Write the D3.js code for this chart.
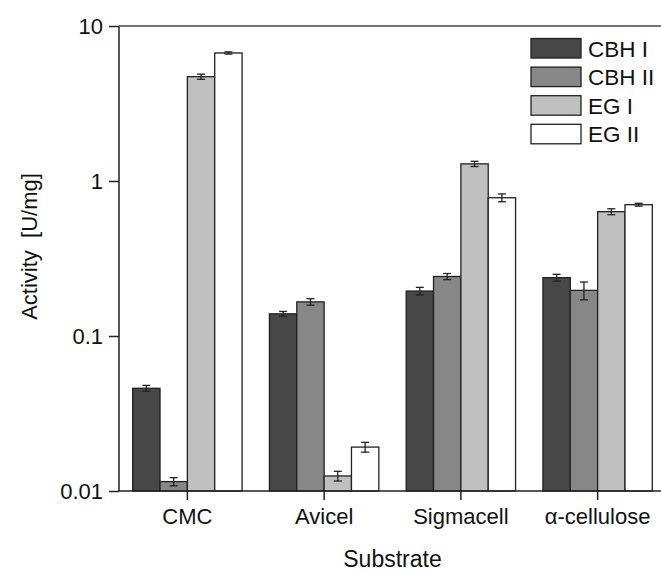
<!DOCTYPE html>
<html>
<head>
<meta charset="utf-8">
<script src="https://cdn.jsdelivr.net/npm/d3@7"></script>
<style>
  body { margin: 0; background: #fff; }
  text { font-family: "Liberation Sans", Arial, sans-serif; fill: #111; }
</style>
</head>
<body>
<svg id="chart" width="661" height="573"></svg>
<script>
const substrates = ['CMC', 'Avicel', 'Sigmacell', 'α-cellulose'];
const enzymes = ['CBH I', 'CBH II', 'EG I', 'EG II'];
const colors = ['#474747', '#878787', '#c0c0c0', '#ffffff'];

// activity per substrate, one array per enzyme
const cbh1 = [0.046, 0.139, 0.195, 0.238];
const cbh2 = [0.0115, 0.166, 0.242, 0.197];
const eg1 = [4.71, 0.0125, 1.29, 0.634];
const eg2 = [6.70, 0.0192, 0.78, 0.703];
const values = [cbh1, cbh2, eg1, eg2];

// error bar half widths
const cbh1Err = [0.002, 0.005, 0.011, 0.012];
const cbh2Err = [0.0007, 0.008, 0.011, 0.026];
const eg1Err = [0.18, 0.0009, 0.05, 0.028];
const eg2Err = [0.11, 0.0014, 0.045, 0.015];
const errors = [cbh1Err, cbh2Err, eg1Err, eg2Err];

const yTicks = [0.01, 0.1, 1, 10];
const yTickLabels = ['0.01', '0.1', '1', '10'];

const plotLeft = 119, plotTop = 26, plotBottom = 491, plotRight = 666;

const svg = d3.select('#chart');

const x0 = d3.scaleBand()
    .domain(substrates)
    .range([plotLeft, plotRight])
    .paddingInner(0.2)
    .paddingOuter(0.1);

const x1 = d3.scaleBand()
    .domain(enzymes)
    .range([0, x0.bandwidth()]);

const y = d3.scaleLog()
    .domain([0.01, 10])
    .range([plotBottom, plotTop]);

const rows = [];
substrates.forEach((s, i) => {
    enzymes.forEach((e, j) => {
        rows.push({ substrate: s, enzyme: e, value: values[j][i], err: errors[j][i], color: colors[j] });
    });
});

// bars
svg.append('g')
    .selectAll('rect')
    .data(rows)
    .enter()
    .append('rect')
    .attr('x', (d) => x0(d.substrate) + x1(d.enzyme))
    .attr('y', (d) => y(d.value))
    .attr('width', x1.bandwidth())
    .attr('height', (d) => plotBottom - y(d.value))
    .attr('fill', (d) => d.color)
    .attr('stroke', '#222')
    .attr('stroke-width', 1.3);

// error bars
const eb = svg.append('g')
    .attr('stroke', '#222')
    .attr('stroke-width', 1.3)
    .selectAll('g')
    .data(rows)
    .enter()
    .append('g')
    .attr('transform', (d) => `translate(${x0(d.substrate) + x1(d.enzyme) + x1.bandwidth() / 2},0)`);

eb.append('line')
    .attr('y1', (d) => y(d.value + d.err))
    .attr('y2', (d) => y(d.value - d.err));
eb.append('line')
    .attr('x1', -4).attr('x2', 4)
    .attr('y1', (d) => y(d.value + d.err))
    .attr('y2', (d) => y(d.value + d.err));
eb.append('line')
    .attr('x1', -4).attr('x2', 4)
    .attr('y1', (d) => y(d.value - d.err))
    .attr('y2', (d) => y(d.value - d.err));

// y axis
const yAxis = svg.append('g')
    .attr('transform', `translate(${plotLeft},0)`)
    .call(d3.axisLeft(y)
        .tickValues(yTicks)
        .tickFormat((d, i) => yTickLabels[i])
        .tickSize(10)
        .tickPadding(6));
yAxis.select('.domain').attr('stroke', '#222').attr('stroke-width', 1.5)
    .attr('d', `M0,${plotTop}V${plotBottom}`);
yAxis.selectAll('.tick line').attr('stroke', '#222').attr('stroke-width', 1.5);
yAxis.selectAll('.tick text')
    .style('font-size', '22px')
    .attr('fill', '#111');

// x axis
const xAxis = svg.append('g')
    .attr('transform', `translate(0,${plotBottom})`)
    .call(d3.axisBottom(x0).tickSize(9).tickPadding(8));
xAxis.select('.domain').attr('stroke', '#222').attr('stroke-width', 1.5)
    .attr('d', `M${plotLeft},0H661`);
xAxis.selectAll('.tick line').attr('stroke', '#222').attr('stroke-width', 1.5);
xAxis.selectAll('.tick text')
    .style('font-size', '22px')
    .attr('fill', '#111');

// top frame line
svg.append('line')
    .attr('x1', plotLeft).attr('x2', 661)
    .attr('y1', plotTop).attr('y2', plotTop)
    .attr('stroke', '#444')
    .attr('stroke-width', 1.5);

// axis titles
svg.append('text')
    .attr('transform', `translate(37,${(plotTop + plotBottom) / 2 - 12}) rotate(-90)`)
    .attr('text-anchor', 'middle')
    .style('font-size', '22px')
    .text('Activity\u00A0\u00A0[U/mg]');

svg.append('text')
    .attr('x', (plotLeft + plotRight) / 2)
    .attr('y', 567)
    .attr('text-anchor', 'middle')
    .style('font-size', '23px')
    .text('Substrate');

// legend
const legend = svg.append('g')
    .selectAll('g')
    .data(enzymes)
    .enter()
    .append('g')
    .attr('transform', (d, i) => `translate(531,${38.5 + i * 28.6})`);

legend.append('rect')
    .attr('width', 50)
    .attr('height', 19.5)
    .attr('fill', (d, i) => colors[i])
    .attr('stroke', '#222')
    .attr('stroke-width', 1.3);

legend.append('text')
    .attr('x', 57)
    .attr('y', 18)
    .style('font-size', '22.5px')
    .text((d) => d);
</script>
</body>
</html>
